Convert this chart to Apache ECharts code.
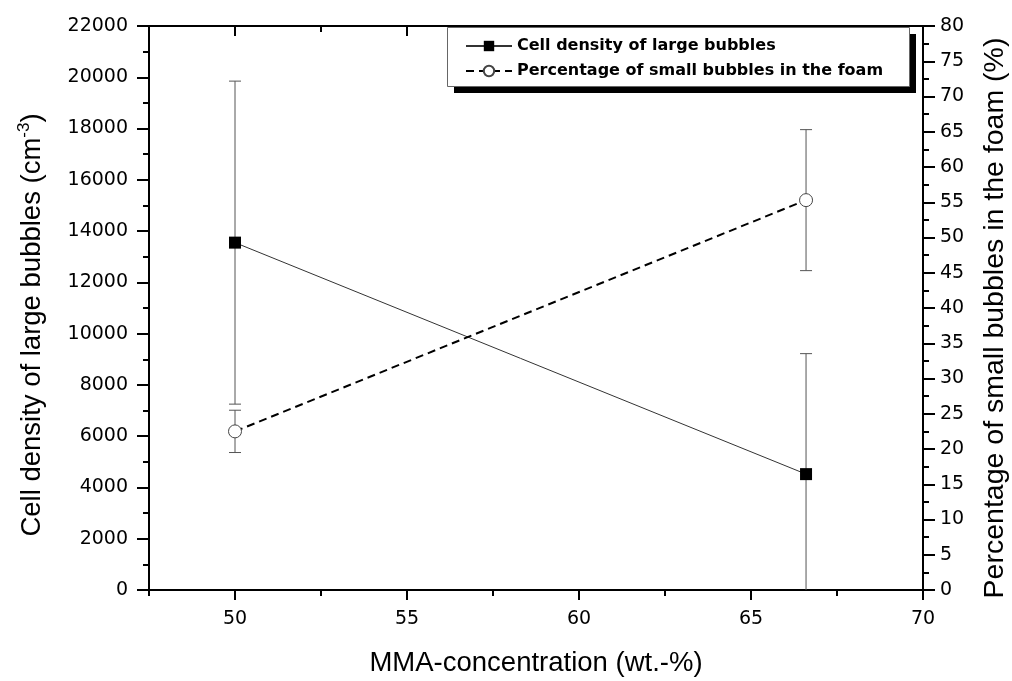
<!DOCTYPE html>
<html>
<head>
<meta charset="utf-8">
<script src="https://cdn.jsdelivr.net/npm/echarts@6/dist/echarts.min.js"></script>
<style>
  html, body { margin: 0; padding: 0; background: #fff; }
  #main { width: 1012px; height: 681px; }
</style>
</head>
<body>
<div id="main"></div>
<script>
// data
var mmaConc = [50, 66.6];
var densityVals = [13550, 4520];
var densityErr = [6300, 4700];
var percentVals = [22.5, 55.3];
var percentErr = [3.0, 10.0];

var xMajorTicks = [50, 55, 60, 65, 70];
var xMinorTicks = [47.5, 52.5, 57.5, 62.5, 67.5];

var nameDensity = 'Cell density of large bubbles';
var namePercent = 'Percentage of small bubbles in the foam';

var titleFont = '"Liberation Sans", Arial, sans-serif';
var tickFont = '"DejaVu Sans", sans-serif';

function pairs(xs, ys) {
  return xs.map(function (x, i) { return [x, ys[i]]; });
}
function errRows(xs, ys, es) {
  return xs.map(function (x, i) { return [x, ys[i] - es[i], ys[i] + es[i]]; });
}

function renderErr(params, api) {
  var x = api.value(0);
  var lo = api.coord([x, api.value(1)]);
  var hi = api.coord([x, api.value(2)]);
  var w = 6;
  var st = { stroke: '#555', lineWidth: 1 };
  return {
    type: 'group',
    children: [
      { type: 'line', shape: { x1: lo[0], y1: lo[1], x2: hi[0], y2: hi[1] }, style: st },
      { type: 'line', shape: { x1: hi[0] - w, y1: hi[1], x2: hi[0] + w, y2: hi[1] }, style: st },
      { type: 'line', shape: { x1: lo[0] - w, y1: lo[1], x2: lo[0] + w, y2: lo[1] }, style: st }
    ]
  };
}

function plain(v) { return String(v); }

var axLine = { show: true, lineStyle: { color: '#000', width: 2 } };
var tickSt = { width: 2, color: '#000' };
var xRange = { type: 'value', min: 47.5, max: 70, splitLine: { show: false } };

var myChart = echarts.init(document.getElementById('main'));

var option = {
  animation: false,
  grid: { left: 149, right: 89, top: 26, bottom: 91, outerBoundsMode: 'none' },
  // legend frame with hard drop shadow
  graphic: [
    { type: 'rect', left: 454, top: 34, shape: { width: 462, height: 59 }, style: { fill: '#000' }, z: 10 },
    { type: 'rect', left: 447, top: 27, shape: { width: 462, height: 59 }, style: { fill: '#fff', stroke: '#666', lineWidth: 1 }, z: 11 }
  ],
  legend: {
    orient: 'vertical',
    left: 447,
    top: 27,
    z: 20,
    padding: [11, 18, 8, 18],
    itemGap: 9,
    itemWidth: 46,
    itemHeight: 13,
    textStyle: { fontFamily: tickFont, fontSize: 16, fontWeight: 'bold', color: '#000' },
    data: [nameDensity, namePercent]
  },
  xAxis: [
    Object.assign({}, xRange, {
      position: 'bottom',
      axisLine: axLine,
      axisTick: { customValues: xMajorTicks, length: 10, lineStyle: tickSt },
      axisLabel: { customValues: xMajorTicks, margin: 20, fontFamily: tickFont, fontSize: 19, color: '#000' },
      name: 'MMA-concentration (wt.-%)',
      nameLocation: 'middle',
      nameGap: 59,
      nameTextStyle: { fontFamily: titleFont, fontSize: 27.5, color: '#000' }
    }),
    Object.assign({}, xRange, {
      position: 'bottom',
      axisLine: { show: false },
      axisTick: { customValues: xMinorTicks, length: 6, lineStyle: tickSt },
      axisLabel: { show: false }
    }),
    Object.assign({}, xRange, {
      position: 'top',
      axisLine: axLine,
      axisTick: { inside: true, customValues: xMajorTicks, length: 10, lineStyle: tickSt },
      axisLabel: { show: false }
    }),
    Object.assign({}, xRange, {
      position: 'top',
      axisLine: { show: false },
      axisTick: { inside: true, customValues: xMinorTicks, length: 6, lineStyle: tickSt },
      axisLabel: { show: false }
    })
  ],
  yAxis: [
    {
      type: 'value',
      position: 'left',
      min: 0,
      max: 22000,
      interval: 2000,
      splitLine: { show: false },
      axisLine: axLine,
      axisTick: { length: 12, lineStyle: tickSt },
      minorTick: { show: true, splitNumber: 2, length: 6, lineStyle: tickSt },
      axisLabel: { margin: 21, fontFamily: tickFont, fontSize: 19, color: '#000', formatter: plain },
      name: '{a|Cell density of large bubbles (cm}{s|-3}{a|)}',
      nameLocation: 'middle',
      nameGap: 100,
      nameTextStyle: {
        padding: [0, 34, 0, 0],
        rich: {
          a: { fontFamily: titleFont, fontSize: 27.5, color: '#000' },
          s: { fontFamily: titleFont, fontSize: 17, color: '#000', padding: [0, 0, 16, 0] }
        }
      }
    },
    {
      type: 'value',
      position: 'right',
      min: 0,
      max: 80,
      interval: 5,
      splitLine: { show: false },
      axisLine: axLine,
      axisTick: { length: 12, lineStyle: tickSt },
      minorTick: { show: true, splitNumber: 2, length: 6, lineStyle: tickSt },
      axisLabel: { margin: 17, fontFamily: tickFont, fontSize: 19, color: '#000', formatter: plain },
      name: namePercent + ' (%)',
      nameLocation: 'middle',
      nameGap: 58,
      nameTextStyle: { fontFamily: titleFont, fontSize: 28.5, color: '#000', padding: [0, 20, 0, 0] }
    }
  ],
  series: [
    {
      type: 'custom',
      name: 'densityErr',
      xAxisIndex: 0,
      yAxisIndex: 0,
      clip: true,
      z: 1,
      renderItem: renderErr,
      encode: { x: 0, y: [1, 2] },
      data: errRows(mmaConc, densityVals, densityErr)
    },
    {
      type: 'custom',
      name: 'percentErr',
      xAxisIndex: 0,
      yAxisIndex: 1,
      clip: true,
      z: 1,
      renderItem: renderErr,
      encode: { x: 0, y: [1, 2] },
      data: errRows(mmaConc, percentVals, percentErr)
    },
    {
      type: 'line',
      name: nameDensity,
      xAxisIndex: 0,
      yAxisIndex: 0,
      z: 3,
      symbol: 'rect',
      symbolSize: 12,
      itemStyle: { color: '#000', borderWidth: 0 },
      lineStyle: { color: '#333', width: 1 },
      data: pairs(mmaConc, densityVals)
    },
    {
      type: 'line',
      name: namePercent,
      xAxisIndex: 0,
      yAxisIndex: 1,
      z: 3,
      symbol: 'circle',
      symbolSize: 13,
      itemStyle: { color: '#fff', borderColor: '#444', borderWidth: 1 },
      lineStyle: { color: '#000', width: 2, type: [8, 5] },
      data: pairs(mmaConc, percentVals)
    }
  ]
};

myChart.setOption(option);
window.addEventListener('resize', myChart.resize);
</script>
</body>
</html>
